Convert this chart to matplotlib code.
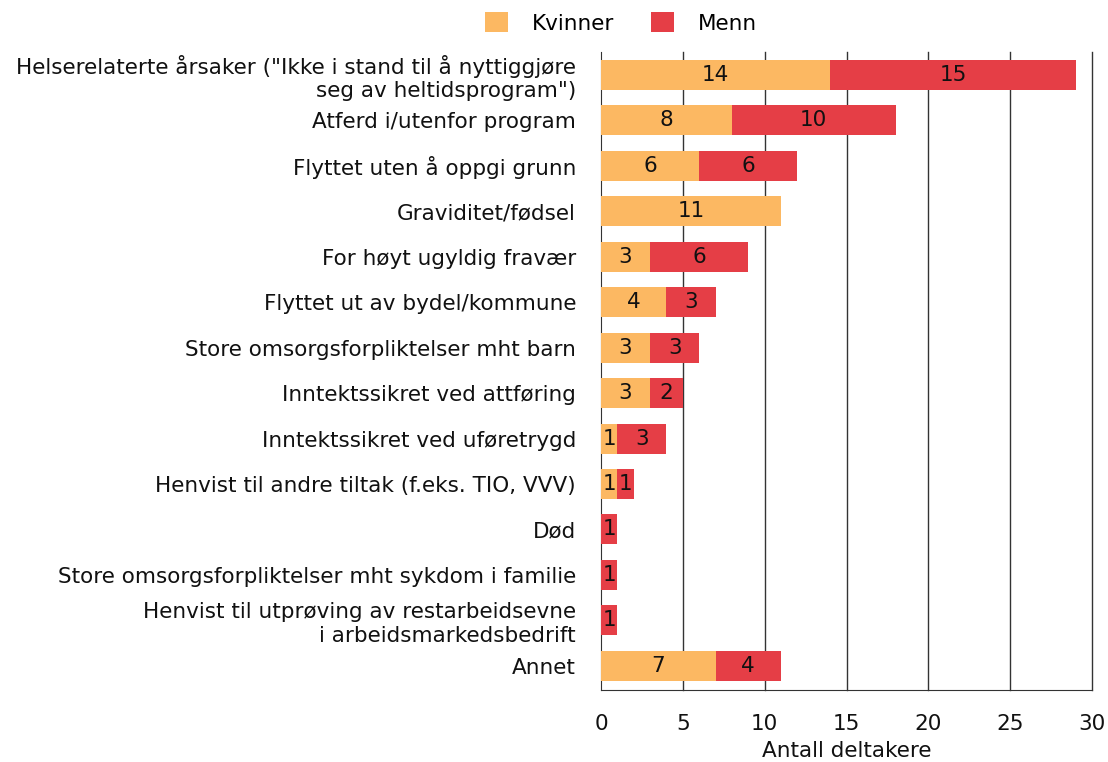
import matplotlib
matplotlib.use("Agg")
import matplotlib.pyplot as plt
from matplotlib.patches import Patch

plt.rcParams["font.family"] = ["DejaVu Sans"]

categories = [
    'Helserelaterte årsaker ("Ikke i stand til å nyttiggjøre\nseg av heltidsprogram")',
    "Atferd i/utenfor program",
    "Flyttet uten å oppgi grunn",
    "Graviditet/fødsel",
    "For høyt ugyldig fravær",
    "Flyttet ut av bydel/kommune",
    "Store omsorgsforpliktelser mht barn",
    "Inntektssikret ved attføring",
    "Inntektssikret ved uføretrygd",
    "Henvist til andre tiltak (f.eks. TIO, VVV)",
    "Død",
    "Store omsorgsforpliktelser mht sykdom i familie",
    "Henvist til utprøving av restarbeidsevne\ni arbeidsmarkedsbedrift",
    "Annet",
]
kvinner = [14, 8, 6, 11, 3, 4, 3, 3, 1, 1, 0, 0, 0, 7]
menn = [15, 10, 6, 0, 6, 3, 3, 2, 3, 1, 1, 1, 1, 4]
series_names = ["Kvinner", "Menn"]
xticks = [0, 5, 10, 15, 20, 25, 30]
xlabel = "Antall deltakere"

c_k = "#FCB862"
c_m = "#E53E46"
fs = 15.5

fig = plt.figure(figsize=(11.08, 7.62), dpi=100)
ax = fig.add_axes([601/1108, 1-690/762, (1092-601)/1108, (690-52)/762])

y = list(range(len(categories)))
h = 0.66
ax.barh(y, kvinner, height=h, color=c_k, zorder=3)
ax.barh(y, menn, left=kvinner, height=h, color=c_m, zorder=3)

for i in y:
    if kvinner[i] > 0:
        ax.text(kvinner[i]/2, i, str(kvinner[i]), ha="center", va="center", fontsize=fs, color="#111111", zorder=4)
    if menn[i] > 0:
        ax.text(kvinner[i] + menn[i]/2, i, str(menn[i]), ha="center", va="center", fontsize=fs, color="#111111", zorder=4)

ax.set_xlim(0, 30)
ax.set_ylim(13.53, -0.5)
ax.set_xticks(xticks)
ax.set_xticklabels([str(t) for t in xticks], fontsize=fs)
ax.set_yticks(y)
ax.set_yticklabels(categories, fontsize=fs)
ax.tick_params(axis="x", length=0, pad=17, colors="#111111")
ax.tick_params(axis="y", length=0, pad=18, colors="#111111")
for t in ax.get_yticklabels():
    t.set_multialignment("right")
    t.set_linespacing(1.2)
ax.set_xlabel(xlabel, fontsize=fs, labelpad=5, color="#111111")

for xv in xticks[1:]:
    ax.axvline(xv, color="#333333", lw=1.0, zorder=1, clip_on=False)
for s in ["top", "right"]:
    ax.spines[s].set_visible(False)
ax.spines["left"].set_color("#333333")
ax.spines["bottom"].set_color("#333333")

handles = [Patch(facecolor=c_k), Patch(facecolor=c_m)]
fig.legend(handles, series_names, loc="center", bbox_to_anchor=(621/1108, 1-23/762), ncol=2,
           frameon=False, fontsize=fs, handlelength=1.07, handleheight=1.0, columnspacing=1.7,
           handletextpad=1.1, borderpad=0.2)

fig.savefig("out.png", dpi=100)
